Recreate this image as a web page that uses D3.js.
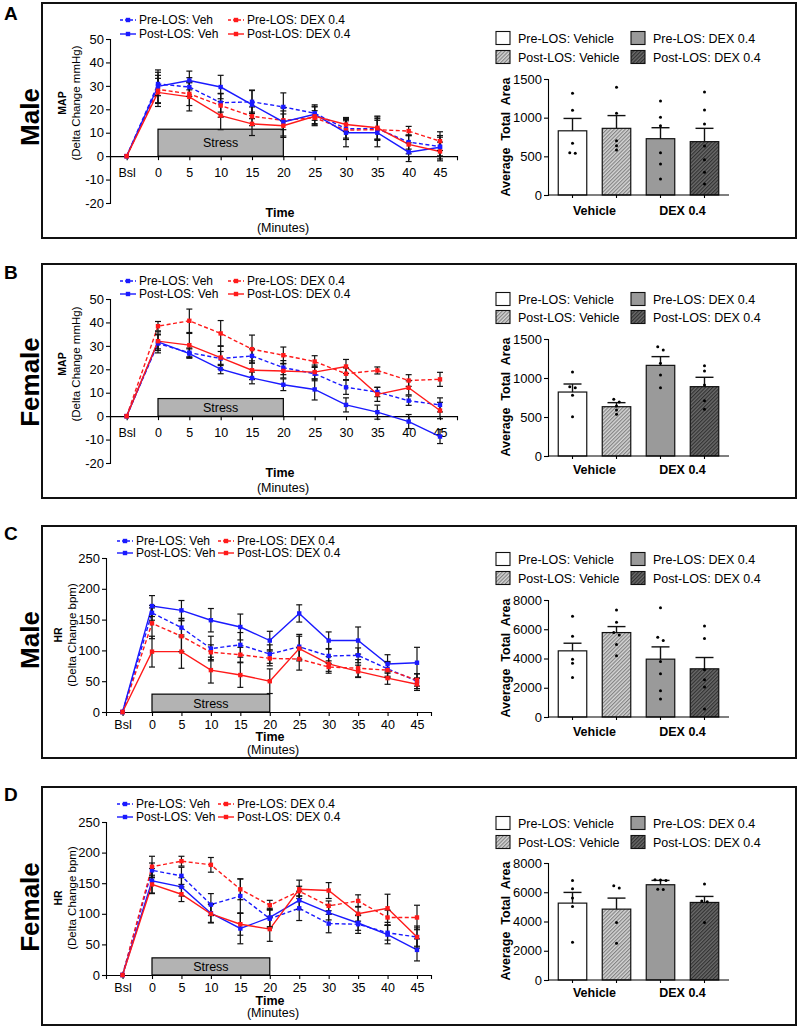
<!DOCTYPE html>
<html>
<head>
<meta charset="utf-8">
<script src="https://cdn.jsdelivr.net/npm/d3@7"></script>
<style>
  body { margin: 0; background: #fff; }
  svg text { font-family: "Liberation Sans", Arial, Helvetica, sans-serif; }
</style>
</head>
<body>
<div id="chart"></div>
<script>
// ---- data ----
const timeLabels = ['Bsl', '0', '5', '10', '15', '20', '25', '30', '35', '40', '45'];
const timeMinutes = [-5, 0, 5, 10, 15, 20, 25, 30, 35, 40, 45]; // Bsl plotted one step before 0
const lineSeries = ['Pre-LOS: Veh', 'Post-LOS: Veh', 'Pre-LOS: DEX 0.4', 'Post-LOS: DEX 0.4'];
const barSeries = ['Pre-LOS: Vehicle', 'Post-LOS: Vehicle', 'Pre-LOS: DEX 0.4', 'Post-LOS: DEX 0.4'];
const barGroups = ['Vehicle', 'DEX 0.4'];

const mapTicks = [-20, -10, 0, 10, 20, 30, 40, 50];
const hrTicks = [0, 50, 100, 150, 200, 250];
const mapAreaTicks = [0, 500, 1000, 1500];
const hrAreaTicks = [0, 2000, 4000, 6000, 8000];

// series order: Pre-Veh, Post-Veh, Pre-DEX, Post-DEX
const mapMaleMean = [
  [0, 30.8, 29.5, 22.8, 23.2, 21.0, 18.3, 11.7, 11.7, 6.0, 4.1],
  [0, 29.8, 32.3, 29.5, 22.0, 14.6, 17.9, 10.0, 10.0, 1.7, 3.8],
  [0, 28.5, 26.6, 21.6, 17.0, 15.3, 16.4, 11.1, 11.3, 10.7, 6.4],
  [0, 27.2, 25.3, 17.3, 13.8, 13.0, 17.0, 13.5, 12.1, 5.0, 2.0]
];
const mapMaleSem = [
  [0, 5, 4, 4, 5, 6, 3, 4, 5, 3, 4],
  [0, 7, 4, 5, 6, 6, 4, 6, 6, 4, 5],
  [0, 6, 5, 5, 4, 4, 3, 4, 4, 2, 4],
  [0, 6, 6, 6, 5, 5, 4, 3, 5, 4, 4]
];
const mapFemaleMean = [
  [0, 31.0, 27.1, 24.6, 25.7, 20.7, 18.1, 12.3, 10.3, 6.6, 4.8],
  [0, 31.7, 26.7, 20.1, 16.3, 13.4, 11.4, 4.8, 1.7, -2.3, -8.7],
  [0, 38.4, 40.7, 35.3, 28.6, 26.0, 23.3, 18.1, 19.5, 15.2, 15.7],
  [0, 32.0, 30.3, 25.0, 19.6, 19.3, 18.8, 21.2, 9.3, 12.1, 2.4]
];
const mapFemaleSem = [
  [0, 4, 2, 3, 3, 3, 3, 3, 2, 2, 3],
  [0, 3, 2, 2, 2.5, 2.5, 4.5, 3, 3, 3, 3],
  [0, 2, 5, 5.5, 6, 3.5, 2.5, 2.5, 1.5, 2.5, 3],
  [0, 4, 5, 5, 4, 3, 3, 3, 3, 3, 3.5]
];
const hrMaleMean = [
  [0, 161, 137, 103, 109, 94, 106, 91, 92, 70, 50],
  [0, 172, 165, 149, 138, 116, 160, 116, 116, 78, 80],
  [0, 144, 123, 97, 93, 87, 86, 73, 71, 68, 52],
  [0, 98, 98, 68, 60, 50, 103, 78, 66, 55, 45]
];
const hrMaleSem = [
  [0, 12, 15, 20, 20, 15, 20, 12, 12, 12, 12],
  [0, 17, 16, 19, 21, 15, 14, 14, 22, 15, 25],
  [0, 25, 25, 12, 12, 12, 18, 10, 14, 12, 10],
  [0, 25, 27, 21, 20, 20, 20, 12, 10, 10, 10]
];
const hrFemaleMean = [
  [0, 171, 162, 115, 129, 92, 109, 84, 83, 69, 62],
  [0, 154, 144, 101, 76, 94, 122, 102, 85, 66, 41],
  [0, 177, 186, 180, 140, 114, 137, 113, 121, 94, 94],
  [0, 148, 132, 100, 83, 75, 140, 138, 100, 109, 62]
];
const hrFemaleSem = [
  [0, 12, 14, 18, 28, 15, 20, 15, 15, 12, 15],
  [0, 20, 15, 15, 25, 15, 15, 12, 12, 15, 18],
  [0, 17, 8, 12, 17, 8, 8, 8, 10, 12, 20],
  [0, 15, 12, 15, 18, 20, 15, 13, 12, 23, 18]
];

// area under curve bars
const mapMaleArea = [830, 862, 728, 690];
const mapMaleAreaSem = [160, 165, 142, 172];
const mapMaleAreaDots = [
  [1315, 1095, 670, 540, 545],
  [1392, 1056, 703, 638, 582],
  [1216, 1004, 897, 547, 401, 207],
  [1332, 1099, 918, 634, 457, 293, 142]
];
const mapFemaleArea = [820, 632, 1162, 889];
const mapFemaleAreaSem = [103, 52, 112, 120];
const mapFemaleAreaDots = [
  [1077, 889, 875, 778, 504],
  [726, 692, 641, 590, 534],
  [1402, 1359, 1188, 1038, 876],
  [1158, 1090, 910, 709, 598]
];
const hrMaleArea = [4523, 5773, 3955, 3295];
const hrMaleAreaSem = [522, 409, 840, 773];
const hrMaleAreaDots = [
  [6886, 5523, 3955, 3682, 2705],
  [7318, 6477, 5773, 5614, 4955, 4182],
  [7477, 5455, 5227, 3795, 2955, 1795, 1227],
  [6227, 5364, 3227, 2545, 2045, 545]
];
const hrFemaleArea = [5257, 4846, 6514, 5303];
const hrFemaleAreaSem = [732, 754, 297, 411];
const hrFemaleAreaDots = [
  [6811, 6240, 5600, 5029, 2583],
  [6446, 6286, 3931, 2514],
  [6850, 6830, 6800, 6200, 6180],
  [6560, 5400, 5350, 3931]
];

// ---- styling ----
const BLUE = '#1a1aff';
const RED = '#ff1a1a';
const lineColor = [BLUE, BLUE, RED, RED];
const lineDash = ['4,2.5', null, '4,2.5', null];
const barFill = ['#ffffff', 'url(#hatchLight)', '#9a9a9a', 'url(#hatchDark)'];

const panels = [
  {
    letter: 'A', letterY: 20, sex: 'Male', sexY: 117, box: [42, 3, 754, 235],
    measure: 'MAP', unit: '(Delta Change mmHg)', labelY: 103,
    mean: mapMaleMean, sem: mapMaleSem, ticks: mapTicks, yDom: [-20, 50], yPx: [203, 39],
    x0: 158, x45: 440, axL: 110, axR: 457, stressTop: 11.5,
    legY: [20, 34], legX: [120, 228], timeY: 217, minY: 232, timeX: 280,
    area: mapMaleArea, areaSem: mapMaleAreaSem, dots: mapMaleAreaDots, areaTicks: mapAreaTicks,
    areaDom: [0, 1500], areaPx: [195, 79], barLegY: [38, 57], groupY: 215, areaLabelY: 137
  },
  {
    letter: 'B', letterY: 279, sex: 'Female', sexY: 382, box: [42, 264, 754, 234],
    measure: 'MAP', unit: '(Delta Change mmHg)', labelY: 364,
    mean: mapFemaleMean, sem: mapFemaleSem, ticks: mapTicks, yDom: [-20, 50], yPx: [463, 299],
    x0: 158, x45: 440, axL: 110, axR: 457, stressTop: 7.5,
    legY: [281, 294], legX: [120, 228], timeY: 477, minY: 492, timeX: 280,
    area: mapFemaleArea, areaSem: mapFemaleAreaSem, dots: mapFemaleAreaDots, areaTicks: mapAreaTicks,
    areaDom: [0, 1500], areaPx: [456, 339], barLegY: [299, 317], groupY: 474, areaLabelY: 397
  },
  {
    letter: 'C', letterY: 540, sex: 'Male', sexY: 640, box: [42, 526, 754, 232],
    measure: 'HR', unit: '(Delta Change bpm)', labelY: 635,
    mean: hrMaleMean, sem: hrMaleSem, ticks: hrTicks, yDom: [0, 250], yPx: [712, 558],
    x0: 152, x45: 417, axL: 106, axR: 431, stressTop: 29,
    legY: [541, 553], legX: [117, 218], timeY: 741, minY: 754, timeX: 270,
    area: hrMaleArea, areaSem: hrMaleAreaSem, dots: hrMaleAreaDots, areaTicks: hrAreaTicks,
    areaDom: [0, 8000], areaPx: [717, 600], barLegY: [559, 578], groupY: 736, areaLabelY: 658
  },
  {
    letter: 'D', letterY: 801, sex: 'Female', sexY: 907, box: [42, 787, 754, 238],
    measure: 'HR', unit: '(Delta Change bpm)', labelY: 898,
    mean: hrFemaleMean, sem: hrFemaleSem, ticks: hrTicks, yDom: [0, 250], yPx: [975, 822],
    x0: 152, x45: 417, axL: 106, axR: 431, stressTop: 28,
    legY: [804, 817], legX: [117, 218], timeY: 1005, minY: 1017, timeX: 270,
    area: hrFemaleArea, areaSem: hrFemaleAreaSem, dots: hrFemaleAreaDots, areaTicks: hrAreaTicks,
    areaDom: [0, 8000], areaPx: [980, 863], barLegY: [823, 842], groupY: 997, areaLabelY: 921
  }
];

const W = 800, H = 1027;
const svg = d3.select('#chart').append('svg').attr('width', W).attr('height', H);

// hatch patterns for the Post-LOS bars
const defs = svg.append('defs');
function hatch(id, bg, fg) {
  const p = defs.append('pattern').attr('id', id)
    .attr('patternUnits', 'userSpaceOnUse')
    .attr('width', 2.6).attr('height', 2.6)
    .attr('patternTransform', 'rotate(45)');
  p.append('rect').attr('width', 2.6).attr('height', 2.6).attr('fill', bg);
  p.append('line').attr('x1', 0.6).attr('y1', 0).attr('x2', 0.6).attr('y2', 2.6)
    .attr('stroke', fg).attr('stroke-width', 1.1);
}
hatch('hatchLight', '#d6d6d6', '#7e7e7e');
hatch('hatchDark', '#6a6a6a', '#2e2e2e');

function styleAxis(a) {
  a.selectAll('.domain').attr('stroke', '#000').attr('stroke-width', 1.1);
  a.selectAll('.tick line').attr('stroke', '#000').attr('stroke-width', 1.1);
  a.selectAll('.tick text').attr('fill', '#000');
}

function drawTimeCourse(p) {
  const g = svg.append('g');
  const k = (p.x45 - p.x0) / 45;
  const x = d3.scaleLinear().domain([(p.axL - p.x0) / k, (p.axR - p.x0) / k]).range([p.axL, p.axR]);
  const y = d3.scaleLinear().domain(p.yDom).range(p.yPx);

  // stress bar
  g.append('rect')
    .attr('x', x(0)).attr('y', y(p.stressTop))
    .attr('width', x(20) - x(0)).attr('height', y(0) - y(p.stressTop))
    .attr('fill', '#b3b3b3').attr('stroke', '#000').attr('stroke-width', 1.2);
  g.append('text')
    .attr('x', (x(0) + x(20)) / 2).attr('y', (y(0) + y(p.stressTop)) / 2 + 4.5)
    .attr('text-anchor', 'middle').attr('font-size', 12.5).text('Stress');

  // axes
  const ya = g.append('g').attr('transform', `translate(${p.axL},0)`)
    .call(d3.axisLeft(y).tickValues(p.ticks).tickSize(4).tickPadding(2).tickFormat(d => String(d)));
  ya.selectAll('text').attr('font-size', 13);
  styleAxis(ya);

  const xa = g.append('g').attr('transform', `translate(0,${y(0)})`)
    .call(d3.axisBottom(x).tickValues(timeMinutes).tickSize(4).tickPadding(p.yDom[0] < 0 ? 8 : 4)
      .tickFormat((d, i) => timeLabels[i]));
  xa.selectAll('text').attr('font-size', 12.5);
  styleAxis(xa);

  // lines
  const line = d3.line().x((d, i) => x(timeMinutes[i])).y(d => y(d));
  const order = [0, 2, 1, 3];
  order.forEach(s => {
    g.append('path').datum(p.mean[s])
      .attr('fill', 'none').attr('stroke', lineColor[s]).attr('stroke-width', 1.4)
      .attr('stroke-dasharray', lineDash[s]).attr('d', line);
  });

  // error bars
  order.forEach(s => {
    p.mean[s].forEach((m, i) => {
      const e = p.sem[s][i];
      if (!e) return;
      const cx = x(timeMinutes[i]);
      g.append('line').attr('x1', cx).attr('x2', cx).attr('y1', y(m - e)).attr('y2', y(m + e))
        .attr('stroke', '#111').attr('stroke-width', 1.2);
      [m - e, m + e].forEach(v => {
        g.append('line').attr('x1', cx - 3).attr('x2', cx + 3).attr('y1', y(v)).attr('y2', y(v))
          .attr('stroke', '#111').attr('stroke-width', 1.2);
      });
    });
  });

  // markers
  order.forEach(s => {
    g.selectAll(null).data(p.mean[s]).join('rect')
      .attr('x', (d, i) => x(timeMinutes[i]) - 2.2).attr('y', d => y(d) - 2.2)
      .attr('width', 4.4).attr('height', 4.4).attr('fill', lineColor[s]);
  });

  // legend
  lineSeries.forEach((name, s) => {
    const col = s < 2 ? 0 : 1;
    const row = s % 2;
    const lx = p.legX[col], ly = p.legY[row];
    g.append('line').attr('x1', lx).attr('x2', lx + 16).attr('y1', ly).attr('y2', ly)
      .attr('stroke', lineColor[s]).attr('stroke-width', 1.4).attr('stroke-dasharray', lineDash[s] ? '3,2' : null);
    g.append('rect').attr('x', lx + 8 - 2.2).attr('y', ly - 2.2).attr('width', 4.4).attr('height', 4.4)
      .attr('fill', lineColor[s]);
    g.append('text').attr('x', lx + 19).attr('y', ly + 4.3).attr('font-size', 12).text(name);
  });

  // axis titles
  g.append('text').attr('transform', `translate(${p.axL - 44},${p.labelY}) rotate(-90)`)
    .attr('text-anchor', 'middle').attr('font-size', 10.5).attr('font-weight', 'bold').text(p.measure);
  g.append('text').attr('transform', `translate(${p.axL - 30},${p.labelY}) rotate(-90)`)
    .attr('text-anchor', 'middle').attr('font-size', 11.5).text(p.unit);
  g.append('text').attr('x', p.timeX).attr('y', p.timeY).attr('text-anchor', 'middle')
    .attr('font-size', 12.5).attr('font-weight', 'bold').text('Time');
  g.append('text').attr('x', p.timeX + 3).attr('y', p.minY).attr('text-anchor', 'middle')
    .attr('font-size', 12.5).text('(Minutes)');
}

function drawArea(p) {
  const g = svg.append('g');
  const axL = 548, axR = 729;
  const x = d3.scaleBand().domain(d3.range(4)).range([axL, axR]).paddingInner(0.352).paddingOuter(0.233);
  const y = d3.scaleLinear().domain(p.areaDom).range(p.areaPx);

  const ya = g.append('g').attr('transform', `translate(${axL},0)`)
    .call(d3.axisLeft(y).tickValues(p.areaTicks).tickSize(4).tickPadding(2).tickFormat(d => String(d)));
  ya.selectAll('text').attr('font-size', 13);
  styleAxis(ya);

  // bars
  g.selectAll(null).data(p.area).join('rect')
    .attr('x', (d, i) => x(i)).attr('y', d => y(d))
    .attr('width', x.bandwidth()).attr('height', d => y(0) - y(d))
    .attr('fill', (d, i) => barFill[i]).attr('stroke', '#111').attr('stroke-width', 1.2);

  // error bars (upper only)
  p.area.forEach((m, i) => {
    const cx = x(i) + x.bandwidth() / 2;
    const top = y(m + p.areaSem[i]);
    g.append('line').attr('x1', cx).attr('x2', cx).attr('y1', y(m)).attr('y2', top)
      .attr('stroke', '#111').attr('stroke-width', 1.4);
    g.append('line').attr('x1', cx - 9).attr('x2', cx + 9).attr('y1', top).attr('y2', top)
      .attr('stroke', '#111').attr('stroke-width', 1.4);
  });

  // individual animals: spread points that sit at nearly the same height
  p.dots.forEach((vals, i) => {
    const cx = x(i) + x.bandwidth() / 2;
    const sorted = vals.slice().sort((a, b) => b - a);
    const clusters = [];
    sorted.forEach(v => {
      const last = clusters[clusters.length - 1];
      if (last && Math.abs(y(last[last.length - 1]) - y(v)) < 3.5) last.push(v);
      else clusters.push([v]);
    });
    clusters.forEach(c => {
      c.forEach((v, j) => {
        g.append('circle').attr('cx', cx + (j - (c.length - 1) / 2) * 5.5).attr('cy', y(v))
          .attr('r', 1.5).attr('fill', '#000');
      });
    });
  });

  // x axis
  g.append('line').attr('x1', axL).attr('x2', axR).attr('y1', y(0)).attr('y2', y(0))
    .attr('stroke', '#000').attr('stroke-width', 1.1);
  d3.range(4).forEach(i => {
    const cx = x(i) + x.bandwidth() / 2;
    g.append('line').attr('x1', cx).attr('x2', cx).attr('y1', y(0)).attr('y2', y(0) + 3)
      .attr('stroke', '#000').attr('stroke-width', 1.1);
  });
  barGroups.forEach((name, gi) => {
    const cx = (x(gi * 2) + x(gi * 2 + 1) + x.bandwidth()) / 2;
    g.append('text').attr('x', cx).attr('y', p.groupY).attr('text-anchor', 'middle')
      .attr('font-size', 12.5).attr('font-weight', 'bold').text(name);
  });

  // y title
  g.append('text').attr('transform', `translate(${axL - 38},${p.areaLabelY}) rotate(-90)`)
    .attr('text-anchor', 'middle').attr('font-size', 12.5).attr('font-weight', 'bold')
    .style('white-space', 'pre').text('Average  Total  Area');

  // legend
  const legX = [496, 631];
  barSeries.forEach((name, s) => {
    const col = s < 2 ? 0 : 1;
    const row = s % 2;
    const lx = legX[col], ly = p.barLegY[row];
    g.append('rect').attr('x', lx).attr('y', ly - 6.5).attr('width', 14).attr('height', 13)
      .attr('fill', barFill[s]).attr('stroke', '#111').attr('stroke-width', 1.1);
    g.append('text').attr('x', lx + 22).attr('y', ly + 4.5).attr('font-size', 12.5).text(name);
  });
}

panels.forEach(p => {
  const [bx, by, bw, bh] = p.box;
  svg.append('rect').attr('x', bx).attr('y', by).attr('width', bw).attr('height', bh)
    .attr('fill', 'none').attr('stroke', '#111').attr('stroke-width', 2);
  svg.append('text').attr('x', 4).attr('y', p.letterY).attr('font-size', 19).attr('font-weight', 'bold')
    .text(p.letter);
  svg.append('text').attr('transform', `translate(39,${p.sexY}) rotate(-90)`)
    .attr('text-anchor', 'middle').attr('font-size', 26).attr('font-weight', 'bold').text(p.sex);
  drawTimeCourse(p);
  drawArea(p);
});
</script>
</body>
</html>
